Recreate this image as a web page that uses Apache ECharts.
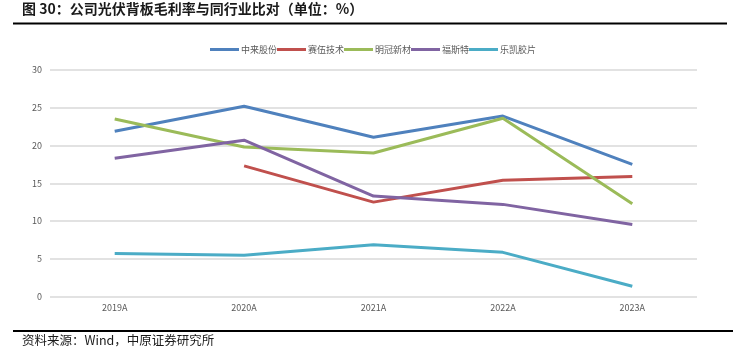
<!DOCTYPE html>
<html>
<head>
<meta charset="utf-8">
<script src="https://cdn.jsdelivr.net/npm/echarts@6/dist/echarts.min.js"></script>
<style>
  html, body { margin: 0; padding: 0; background: #fff; }
  #main { width: 733px; height: 351px; }
</style>
</head>
<body>
<div id="main"></div>
<script>
// 年份
var years = ['2019A', '2020A', '2021A', '2022A', '2023A'];
// 各公司光伏背板毛利率(%)
var zhonglai = [21.9, 25.2, 21.1, 23.9, 17.5];
var saiwu = ['-', 17.3, 12.5, 15.4, 15.9];
var mingguan = [23.5, 19.8, 19.0, 23.6, 12.3];
var fosite = [18.3, 20.7, 13.3, 12.2, 9.55];
var lekai = [5.7, 5.45, 6.85, 5.85, 1.35];
var yTicks = [0, 5, 10, 15, 20, 25, 30];

var cnFont = '"Noto Sans CJK SC", "Noto Sans", sans-serif';
var chart = echarts.init(document.getElementById('main'));

function mkLine(name, data, color) {
  return {
    name: name,
    type: 'line',
    data: data,
    symbol: 'none',
    smooth: false,
    lineStyle: { width: 3, color: color },
    itemStyle: { color: color }
  };
}

var option = {
  animation: false,
  backgroundColor: '#fff',
  textStyle: { fontFamily: cnFont },
  legend: {
    top: 40,
    left: 205,
    icon: 'rect',
    itemWidth: 29,
    itemHeight: 3,
    itemGap: 0,
    textStyle: { fontSize: 9, color: '#595959', fontFamily: cnFont, padding: [0, 0, 0, -3] },
    data: ['中来股份', '赛伍技术', '明冠新材', '福斯特', '乐凯胶片']
  },
  grid: { left: 50, right: 36, top: 70, bottom: 54.5 },
  xAxis: {
    type: 'category',
    data: years,
    boundaryGap: true,
    axisLine: { show: false },
    axisTick: { show: false },
    axisLabel: { color: '#595959', fontSize: 9, margin: 7, fontFamily: cnFont }
  },
  yAxis: {
    type: 'value',
    min: yTicks[0],
    max: yTicks[yTicks.length - 1],
    interval: 5,
    axisLine: { show: false },
    axisTick: { show: false },
    axisLabel: { color: '#595959', fontSize: 9, margin: 8, fontFamily: cnFont },
    splitLine: { lineStyle: { color: '#d9d9d9', width: 1.5 } }
  },
  series: [
    mkLine('中来股份', zhonglai, '#4f81bd'),
    mkLine('赛伍技术', saiwu, '#c0504d'),
    mkLine('明冠新材', mingguan, '#9bbb59'),
    mkLine('福斯特', fosite, '#8064a2'),
    mkLine('乐凯胶片', lekai, '#4bacc6')
  ],
  graphic: [
    {
      type: 'text', left: 22, top: 2,
      style: { text: '图 30：公司光伏背板毛利率与同行业比对（单位：%）', fontSize: 14, fontWeight: 'bold', fill: '#1a1a1a', fontFamily: cnFont }
    },
    { type: 'rect', shape: { x: 13, y: 22.5, width: 714, height: 2 }, style: { fill: '#000' } },
    { type: 'rect', shape: { x: 13, y: 330, width: 720, height: 2 }, style: { fill: '#000' } },
    {
      type: 'text', left: 22, top: 334,
      style: { text: '资料来源：Wind，中原证券研究所', fontSize: 12.5, fill: '#1a1a1a', fontFamily: cnFont }
    }
  ]
};

chart.setOption(option);
</script>
</body>
</html>
